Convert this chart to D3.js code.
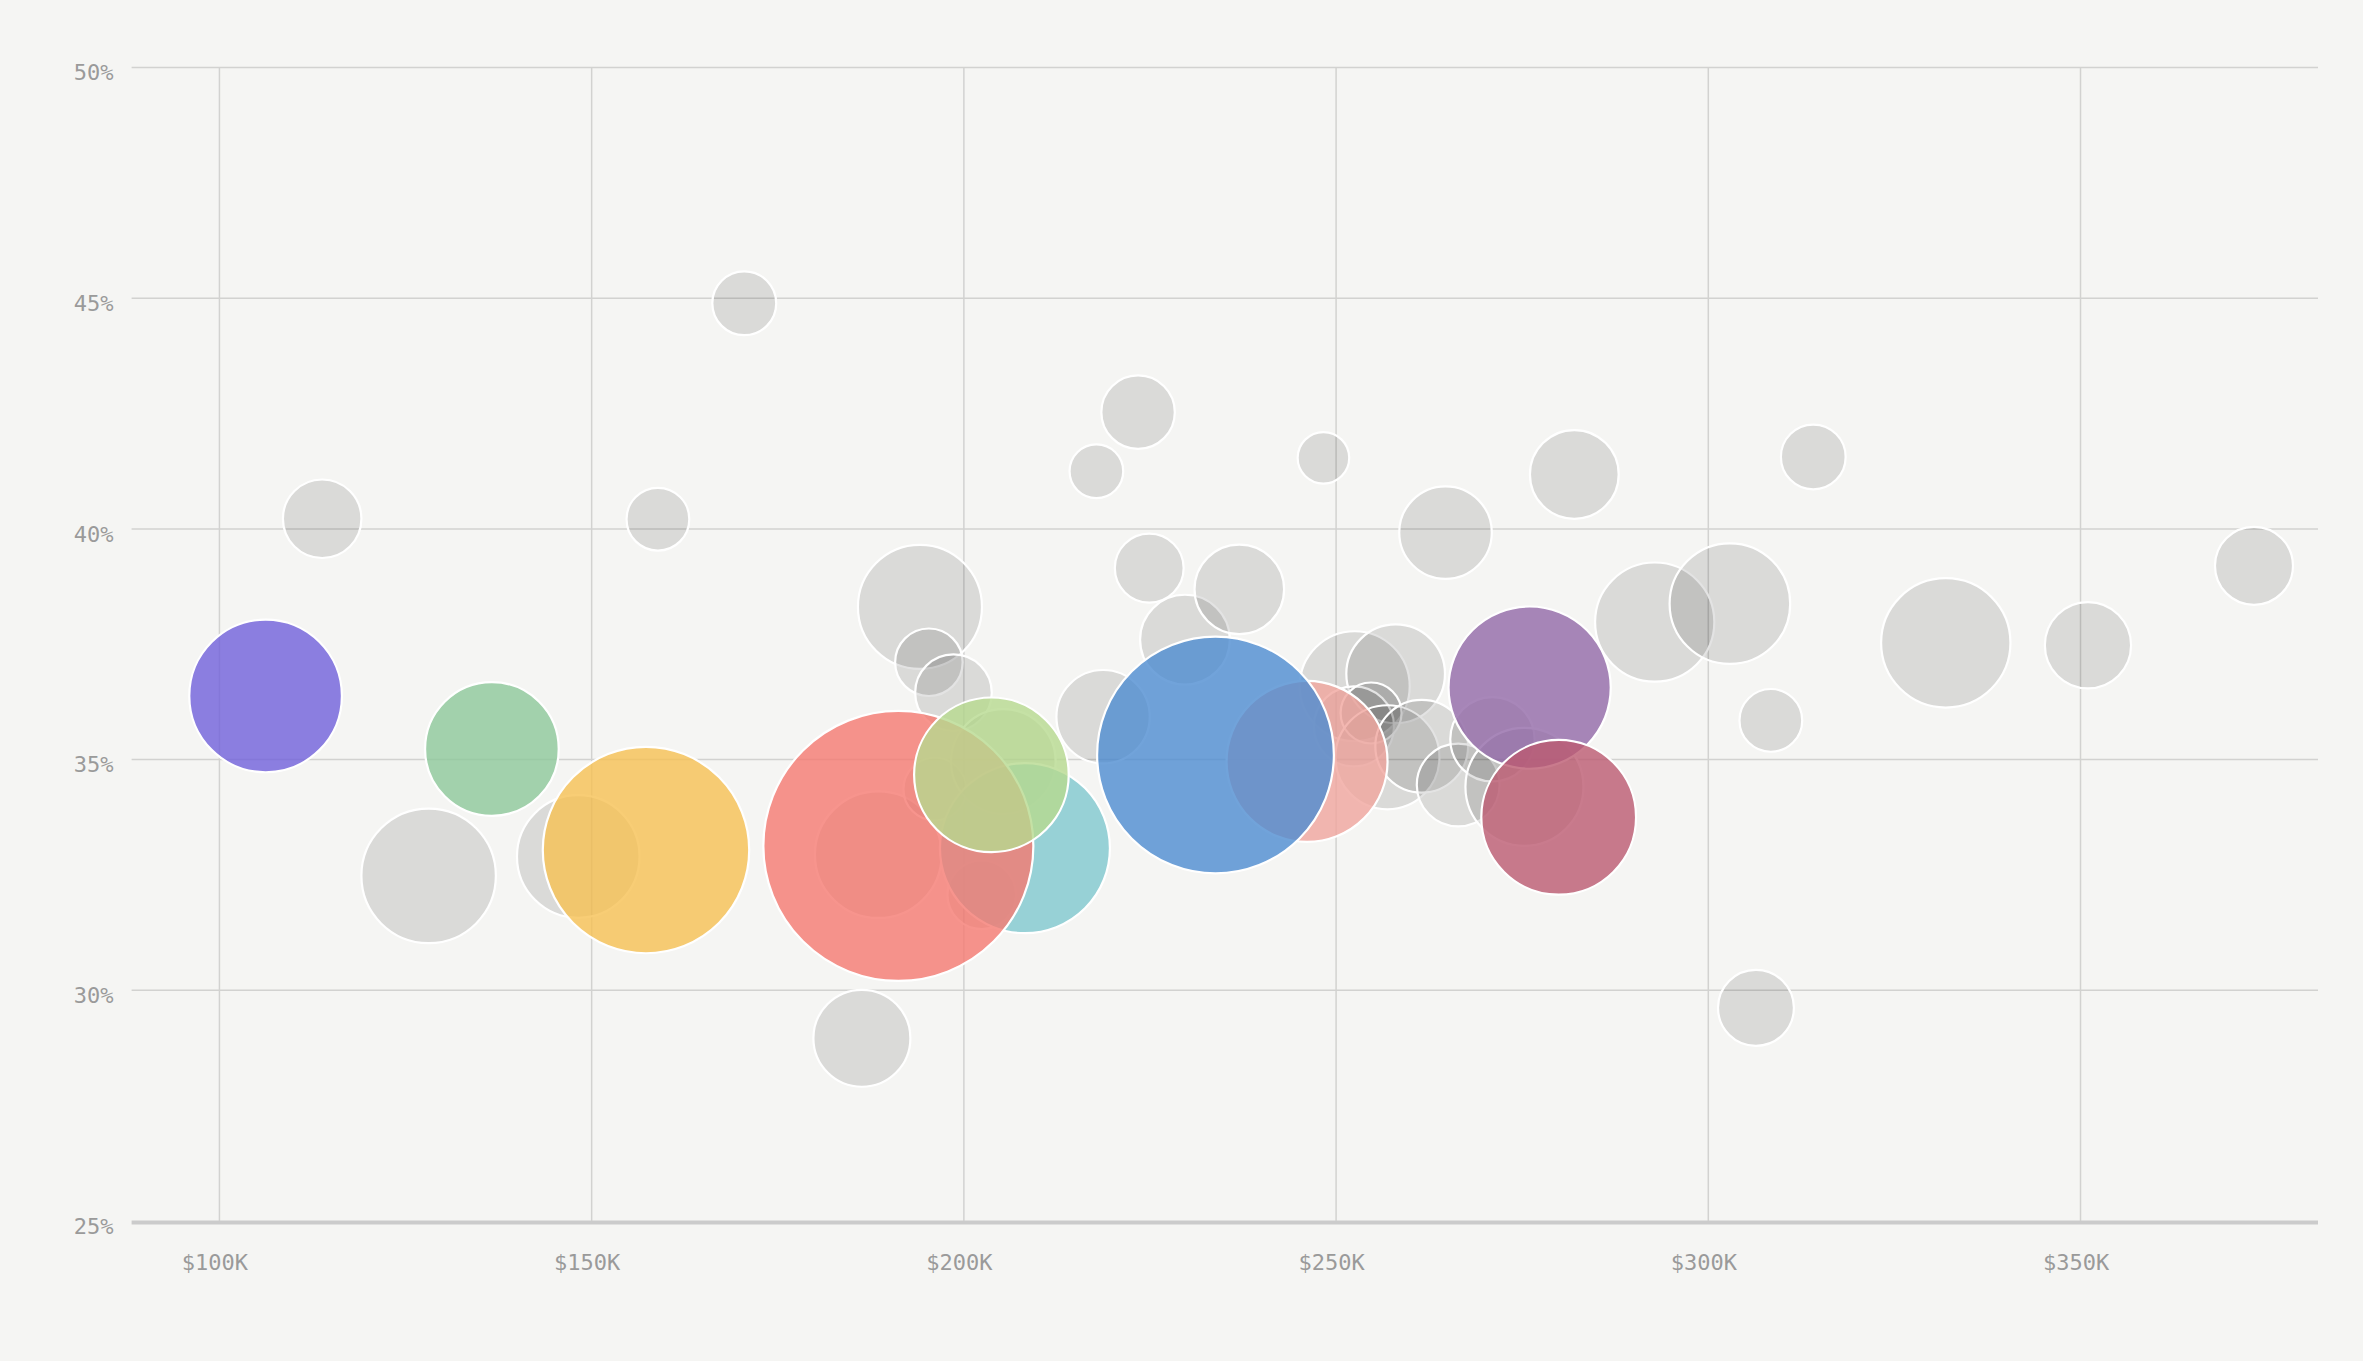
<!DOCTYPE html>
<html>
<head>
<meta charset="utf-8">
<script src="https://cdn.jsdelivr.net/npm/d3@7.9.0/dist/d3.min.js"></script>
<style>
  html, body { margin: 0; background: #f5f5f3; }
  svg { display: block; }
  .axis text { font-family: "DejaVu Sans Mono", monospace; font-size: 22px; fill: #9a9a9a; }
  .axis path, .axis line { display: none; }
</style>
</head>
<body>
<svg id="chart"></svg>
<script>
// median income ($K), share (%), population (millions), highlight colour (null = grey)
const incomeK = [
  113.8, 158.9, 170.5, 128.1, 148.2, 186.3, 194.1, 195.3, 198.6, 188.5,
  196.1, 202.4, 205.3, 217.8, 223.4, 224.9, 218.7, 229.7, 237.0, 248.3,
  264.7, 282.0, 252.5, 258.0, 252.4, 254.7, 256.9, 261.5, 266.4, 271.0,
  275.3, 292.8, 302.9, 308.4, 314.1, 331.9, 351.0, 373.3, 306.4,
  106.2, 136.6, 157.3, 208.2, 191.2, 203.7, 246.1, 233.8, 276.0, 279.9
];
const sharePct = [
  40.22, 40.21, 44.89, 32.48, 32.90, 28.96, 38.31, 37.11, 36.45, 32.94,
  34.36, 32.07, 34.96, 41.25, 42.53, 39.15, 35.93, 37.60, 38.69, 41.54,
  39.92, 41.18, 36.59, 36.86, 35.72, 36.01, 35.05, 35.29, 34.45, 35.44,
  34.41, 37.98, 38.38, 35.85, 41.56, 37.53, 37.48, 39.20, 29.62,
  36.38, 35.23, 33.04, 33.08, 33.13, 34.67, 34.96, 35.10, 36.56, 33.75
];
const popM = [
  1.69, 1.08, 1.12, 4.96, 4.12, 2.58, 4.22, 1.25, 1.61, 4.40,
  1.08, 1.29, 3.00, 0.79, 1.48, 1.30, 2.39, 2.21, 2.20, 0.73,
  2.35, 2.16, 3.32, 2.67, 1.76, 1.02, 2.97, 2.36, 1.88, 1.95,
  3.82, 3.90, 3.99, 1.08, 1.15, 4.59, 2.04, 1.67, 1.58,
  6.39, 4.90, 11.69, 7.93, 20.0, 6.56, 7.11, 15.38, 7.22, 6.57
];
const highlight = [
  null, null, null, null, null, null, null, null, null, null,
  null, null, null, null, null, null, null, null, null, null,
  null, null, null, null, null, null, null, null, null, null,
  null, null, null, null, null, null, null, null, null,
  '#7060db', '#8dc89a', '#f6c053', '#80c8ce', '#f57970',
  '#b6d98e', '#f0a59d', '#4e8cd1', '#9269a8', '#bb5a71'
];
const xTicks = [100, 150, 200, 250, 300, 350];
const yTicks = [25, 30, 35, 40, 45, 50];

const width = 2363;
const height = 1361;
const margin = { top: 67.5, right: 45, bottom: 140, left: 131.6 };

const svg = d3.select('#chart')
    .attr('width', width)
    .attr('height', height);

const x = d3.scaleLinear()
    .domain([88.2, 381.9])
    .range([margin.left, width - margin.right]);
const y = d3.scaleLinear()
    .domain([25, 50])
    .range([height - margin.bottom, margin.top]);
const r = d3.scaleSqrt()
    .domain([0, 20])
    .range([0, 135]);

// grid
const grid = svg.append('g');
grid.selectAll('.vline')
    .data(xTicks)
    .enter()
    .append('line')
    .attr('x1', (d) => x(d))
    .attr('x2', (d) => x(d))
    .attr('y1', y(50))
    .attr('y2', y(25))
    .attr('stroke', '#d2d2d0')
    .attr('stroke-width', 1.5);
grid.selectAll('.hline')
    .data(yTicks.filter((d) => d > 25))
    .enter()
    .append('line')
    .attr('x1', x.range()[0])
    .attr('x2', x.range()[1])
    .attr('y1', (d) => y(d))
    .attr('y2', (d) => y(d))
    .attr('stroke', '#d2d2d0')
    .attr('stroke-width', 1.5);
grid.append('line')
    .attr('x1', x.range()[0])
    .attr('x2', x.range()[1])
    .attr('y1', y(25) + 1.5)
    .attr('y2', y(25) + 1.5)
    .attr('stroke', '#cbcbcb')
    .attr('stroke-width', 4);

// axes (labels only)
svg.append('g')
    .attr('class', 'axis')
    .attr('transform', `translate(0,${y(25)})`)
    .call(d3.axisBottom(x).tickValues(xTicks).tickSize(0).tickPadding(33)
        .tickFormat((d) => `$${d}K`))
    .selectAll('text')
    .attr('dx', -5);

svg.append('g')
    .attr('class', 'axis')
    .attr('transform', `translate(${margin.left},0)`)
    .call(d3.axisLeft(y).tickValues(yTicks).tickSize(0).tickPadding(18)
        .tickFormat((d) => `${d}%`))
    .selectAll('text')
    .attr('dy', '0.55em');

// bubbles: grey ones first, highlighted ones on top
const points = incomeK.map((v, i) => ({
    income: v,
    share: sharePct[i],
    pop: popM[i],
    color: highlight[i]
}));

svg.append('g')
    .selectAll('circle')
    .data(points)
    .enter()
    .append('circle')
    .attr('cx', (d) => x(d.income))
    .attr('cy', (d) => y(d.share))
    .attr('r', (d) => r(d.pop))
    .attr('fill', (d) => d.color || '#000')
    .attr('fill-opacity', (d) => (d.color ? 0.8 : 0.11))
    .attr('stroke', '#fff')
    .attr('stroke-width', 2.2);
</script>
</body>
</html>
